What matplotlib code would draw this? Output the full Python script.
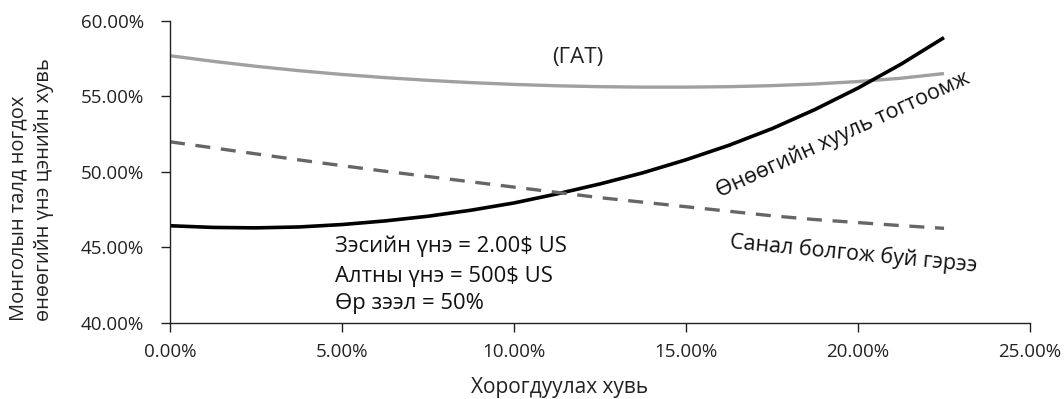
import matplotlib
matplotlib.use("Agg")
import matplotlib.pyplot as plt
from matplotlib.ticker import FuncFormatter

plt.rcParams['font.family'] = ['Open Sans', 'Noto Sans', 'DejaVu Sans']

# Data (x = royalty rate %, y = Mongolia's share of NPV %)
x_vals = [0, 1.25, 2.5, 3.75, 5, 6.25, 7.5, 8.75, 10, 11.25, 12.5, 13.75,
          15, 16.25, 17.5, 18.75, 20, 21.25, 22.5]
gat = [57.7, 57.33, 57.0, 56.71, 56.46, 56.25, 56.07, 55.92, 55.80, 55.71, 55.65,
       55.62, 55.62, 55.65, 55.72, 55.83, 55.99, 56.21, 56.52]
current_law = [46.44, 46.33, 46.30, 46.36, 46.52, 46.76, 47.07, 47.47, 47.95, 48.55,
               49.21, 49.95, 50.81, 51.77, 52.87, 54.14, 55.56, 57.14, 58.90]
proposed = [52.0, 51.6, 51.2, 50.8, 50.42, 50.05, 49.7, 49.35, 49.0, 48.65, 48.3,
            48.0, 47.7, 47.4, 47.1, 46.85, 46.65, 46.45, 46.27]

x_ticks = [0, 5, 10, 15, 20, 25]
y_ticks = [40, 45, 50, 55, 60]

x_label = "Хорогдуулах хувь"
y_label = "Монголын талд ногдох\nөнөөгийн үнэ цэнийн хувь"
label_gat = "(ГАТ)"
label_current = "Өнөөгийн хууль тогтоомж"
label_proposed = "Санал болгож буй гэрээ"
assumptions = ["Зэсийн үнэ = 2.00$ US", "Алтны үнэ = 500$ US", "Өр зээл = 50%"]

fig = plt.figure(figsize=(10.64, 3.99), dpi=100)
ax = fig.add_axes([170/1064, 1 - 323/399, 860/1064, 302/399])

ax.plot(x_vals, gat, color='#A0A0A0', lw=2.4, solid_capstyle='butt', solid_joinstyle='round')
ax.plot(x_vals, current_law, color='black', lw=2.6, solid_capstyle='butt', solid_joinstyle='round')
ax.plot(x_vals, proposed, color='#666666', lw=2.4, linestyle=(0, (4.5, 3.2)))

ax.set_xlim(0, 25)
ax.set_ylim(40, 60)
ax.set_xticks(x_ticks)
ax.set_yticks(y_ticks)
ax.xaxis.set_major_formatter(FuncFormatter(lambda v, p: f"{v:.2f}%"))
ax.yaxis.set_major_formatter(FuncFormatter(lambda v, p: f"{v:.2f}%"))
for s in ['top', 'right']:
    ax.spines[s].set_visible(False)
for s in ['left', 'bottom']:
    ax.spines[s].set_color('#222222')
    ax.spines[s].set_linewidth(1.0)
ax.tick_params(axis='both', direction='out', length=6.7, width=1.0, color='#222222',
               labelsize=13.5, labelcolor='#222222')
ax.tick_params(axis='y', pad=12)
ax.tick_params(axis='x', pad=8)

ax.set_xlabel(x_label, fontsize=15, color='#222222')
ax.xaxis.set_label_coords((560 - 170) / 860, (323 - 388) / 302)
ax.xaxis.label.set_va('center')

fig.text(31/1064, 1 - 321/399, y_label, rotation=90, ha='center', va='bottom',
         multialignment='left', fontsize=14.5, color='#222222', linespacing=1.4)

ax.text(11.85, 57.6, label_gat, fontsize=16, ha='center', va='center', color='#222222')
ax.text(19.56, 52.45, label_current, fontsize=15.5, ha='center', va='center',
        rotation=24.6, rotation_mode='anchor', color='#111111')
ax.text(19.88, 44.57, label_proposed, fontsize=15.5, ha='center', va='center',
        rotation=-5.5, rotation_mode='anchor', color='#111111')
for t, yy in zip(assumptions, [45.05, 43.07, 41.26]):
    ax.text(4.8, yy, t, fontsize=15.8, ha='left', va='center', color='#111111')

fig.savefig("out.png", dpi=100)
